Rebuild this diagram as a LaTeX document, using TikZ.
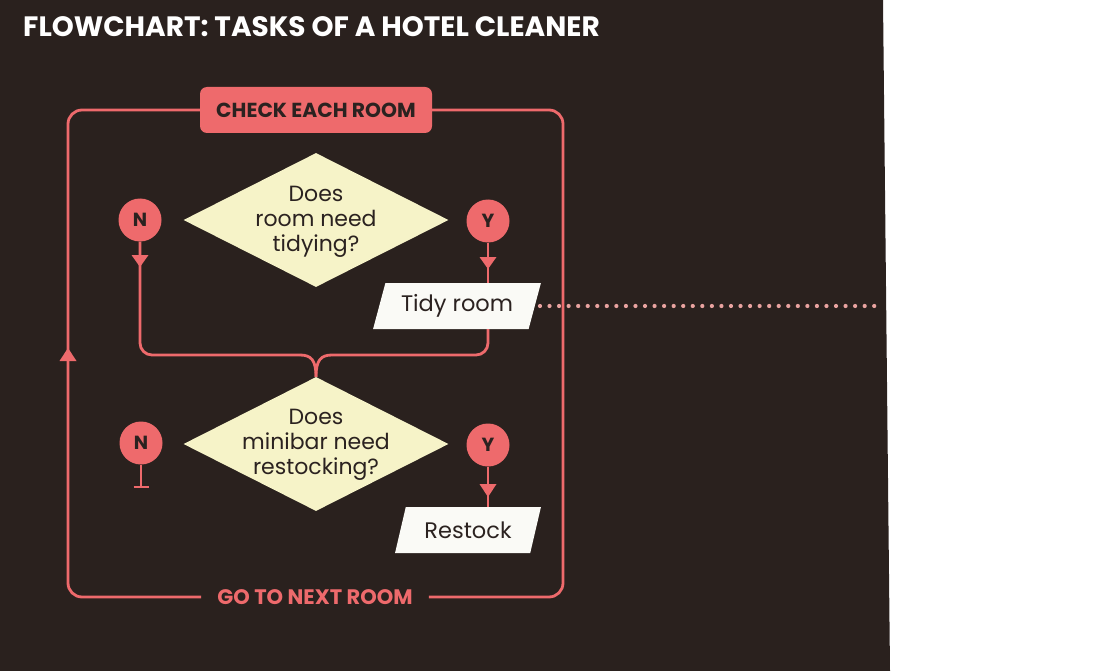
\documentclass[tikz,border=0pt]{standalone}
\usepackage{fontspec}
\setmainfont{Poppins}
\usetikzlibrary{shapes.geometric,arrows.meta}
\definecolor{bg}{HTML}{2A211E}
\definecolor{salmon}{HTML}{EE6A6C}
\definecolor{cream}{HTML}{F6F3C8}
\definecolor{ink}{HTML}{2B2220}
\definecolor{paper}{HTML}{FAFAF6}
\definecolor{dots}{HTML}{E9A3A0}
\begin{document}
\begin{tikzpicture}[x=1pt,y=-1pt,
  flow/.style={draw=salmon,line width=2.8pt},
  yn/.style={circle,fill=salmon,minimum size=43pt,inner sep=0pt,font=\fontsize{19}{19}\selectfont\bfseries,text=ink},
  decide/.style={diamond,fill=cream,minimum width=265pt,minimum height=134pt,inner sep=0pt},
  dtext/.style={align=center,font=\fontsize{22}{25}\selectfont,text=ink},
  task/.style={trapezium,trapezium left angle=71,trapezium right angle=109,trapezium stretches=true,fill=paper,minimum height=46pt,font=\fontsize{22.5}{22.5}\selectfont,text=ink},
  tip/.style={fill=salmon}]
\useasboundingbox (0,0) rectangle (1113,671);
\fill[bg] (0,0) -- (883,0) -- (890,671) -- (0,671) -- cycle;
\node[anchor=base west,text=white,font=\fontsize{28}{28}\selectfont\bfseries,inner sep=0pt] (title) at (23,37) {FLOWCHART: TASKS OF A HOTEL CLEANER};
% nodes
\node[rectangle,rounded corners=7pt,fill=salmon,minimum width=232pt,minimum height=46pt,text=ink,font=\fontsize{20.3}{20}\selectfont\bfseries] (chk) at (316,110) {CHECK EACH ROOM};
\node[text=salmon,font=\fontsize{21}{21}\selectfont\bfseries,inner xsep=16pt,inner ysep=2pt] (go) at (315,597) {GO TO NEXT ROOM};
\node[decide] (d1) at (316,220) {};
\node[dtext] (d1t) at (316,222) {Does\\room need\\tidying?};
\node[decide] (d2) at (316,444) {};
\node[dtext] (d2t) at (316,445) {Does\\minibar need\\restocking?};
\node[yn] (n1) at (140,220) {N};
\node[yn] (y1) at (488,221) {Y};
\node[yn] (n2) at (141,443) {N};
\node[yn] (y2) at (488,445) {Y};
\node[task,minimum width=168pt] (tidy) at (457,306) {Tidy room};
\node[task,minimum width=146pt] (rest) at (468,530) {Restock};
\coordinate (L) at (68,348);
\coordinate (dotend) at (881,306);
\coordinate (nbar) at (141,487);
% loop
\draw[flow,rounded corners=14pt] (chk.east) -- (563,110) -- (563,597) -- (go.east);
\draw[flow,rounded corners=14pt] (go.west) -- (68,597) -- (68,110) -- (chk.west);
\fill[tip] (L) -- ++(-8.5,13) -- ++(17,0) -- cycle;
% N1 branch
\draw[flow,rounded corners=12pt] (n1.south) -- (140,355) -- (300,355);
\fill[tip] (131.5,255) -- (148.5,255) -- (140,267) -- cycle;
\draw[flow] (300,355) .. controls (311,355) and (316,360) .. (d2.north);
% Y1 branch
\draw[flow] (y1.south) -- (tidy.north -| y1.south);
\fill[tip] (479.5,257) -- (496.5,257) -- (488,269) -- cycle;
\draw[flow,rounded corners=12pt] (tidy.south -| y1.south) -- (488,355) -- (332,355);
\draw[flow] (332,355) .. controls (321,355) and (316,360) .. (d2.north);
% N2 terminator
\draw[flow] (n2.south) -- (nbar);
\draw[flow] ([xshift=-7.5pt]nbar) -- ([xshift=7.5pt]nbar);
% Y2 branch
\draw[flow] (y2.south) -- (rest.north -| y2.south);
\fill[tip] (479.5,484) -- (496.5,484) -- (488,497) -- cycle;
% dotted
\draw[dots,line width=4.2pt,line cap=round,dash pattern=on 0pt off 9.55pt] ([xshift=5pt]tidy.east) -- (dotend);
\end{tikzpicture}
\end{document}
